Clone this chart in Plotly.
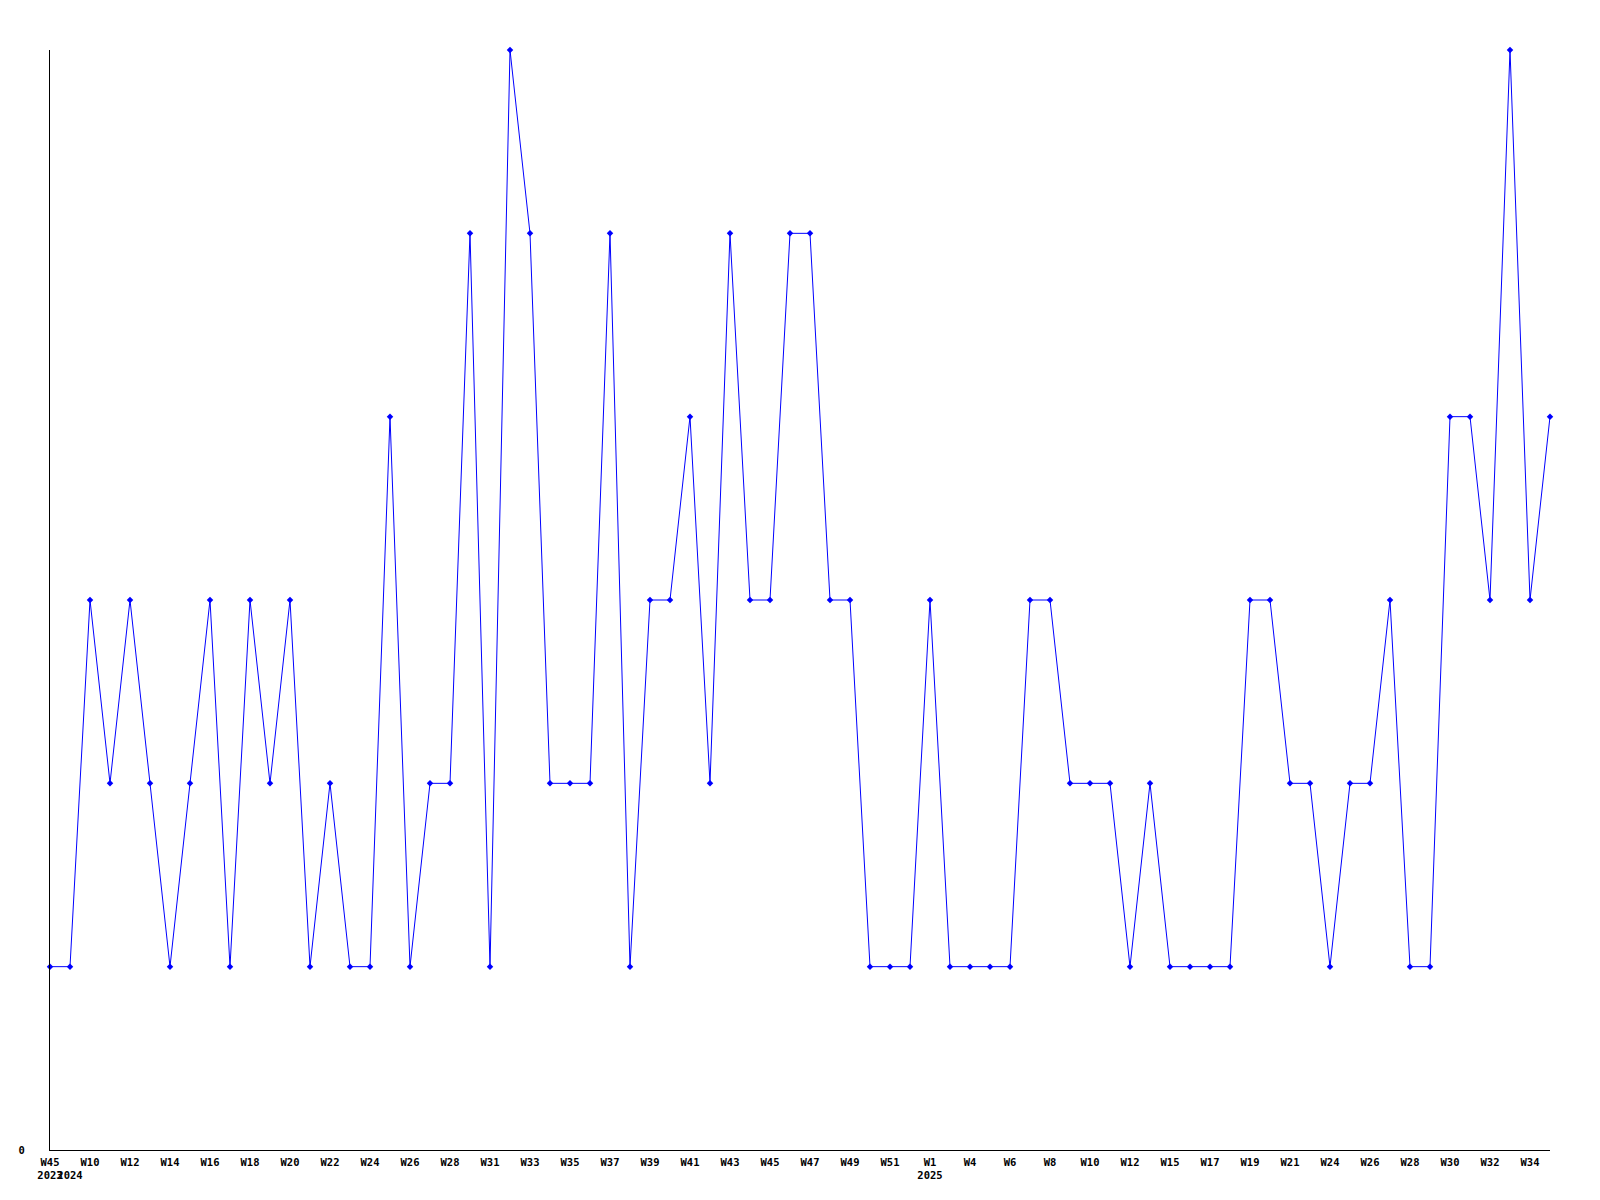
import plotly.graph_objects as go

weeks = ["2023-W45", "2024-W09", "2024-W10", "2024-W11", "2024-W12", "2024-W13", "2024-W14",
         "2024-W15", "2024-W16", "2024-W17", "2024-W18", "2024-W19", "2024-W20", "2024-W21",
         "2024-W22", "2024-W23", "2024-W24", "2024-W25", "2024-W26", "2024-W27", "2024-W28",
         "2024-W30", "2024-W31", "2024-W32", "2024-W33", "2024-W34", "2024-W35", "2024-W36",
         "2024-W37", "2024-W38", "2024-W39", "2024-W40", "2024-W41", "2024-W42", "2024-W43",
         "2024-W44", "2024-W45", "2024-W46", "2024-W47", "2024-W48", "2024-W49", "2024-W50",
         "2024-W51", "2024-W52", "2025-W01", "2025-W02", "2025-W04", "2025-W05", "2025-W06",
         "2025-W07", "2025-W08", "2025-W09", "2025-W10", "2025-W11", "2025-W12", "2025-W14",
         "2025-W15", "2025-W16", "2025-W17", "2025-W18", "2025-W19", "2025-W20", "2025-W21",
         "2025-W23", "2025-W24", "2025-W25", "2025-W26", "2025-W27", "2025-W28", "2025-W29",
         "2025-W30", "2025-W31", "2025-W32", "2025-W33", "2025-W34", "2025-W35"]

values = [1, 1, 3, 2, 3, 2, 1, 2, 3, 1, 3, 2, 3, 1, 2, 1, 1, 4, 1, 2, 2, 5, 1, 6, 5, 2, 2, 2,
          5, 1, 3, 3, 4, 2, 5, 3, 3, 5, 5, 3, 3, 1, 1, 1, 3, 1, 1, 1, 1, 3, 3, 2, 2, 2, 1, 2,
          1, 1, 1, 1, 3, 3, 2, 2, 1, 2, 2, 3, 1, 1, 4, 4, 3, 6, 3, 4]

tick_weeks = ["2023-W45", "2024-W09", "2024-W10", "2024-W12", "2024-W14", "2024-W16", "2024-W18",
              "2024-W20", "2024-W22", "2024-W24", "2024-W26", "2024-W28", "2024-W31", "2024-W33",
              "2024-W35", "2024-W37", "2024-W39", "2024-W41", "2024-W43", "2024-W45", "2024-W47",
              "2024-W49", "2024-W51", "2025-W01", "2025-W04", "2025-W06", "2025-W08", "2025-W10",
              "2025-W12", "2025-W15", "2025-W17", "2025-W19", "2025-W21", "2025-W24", "2025-W26",
              "2025-W28", "2025-W30", "2025-W32", "2025-W34"]
tick_labels = ["W45<br>2023", " <br>2024", "W10", "W12", "W14", "W16", "W18", "W20", "W22", "W24",
               "W26", "W28", "W31", "W33", "W35", "W37", "W39", "W41", "W43", "W45", "W47", "W49",
               "W51", "W1<br>2025", "W4", "W6", "W8", "W10", "W12", "W15", "W17", "W19", "W21",
               "W24", "W26", "W28", "W30", "W32", "W34"]

tfont = dict(family="DejaVu Sans Mono", size=10.5, color="black", weight="bold")

fig = go.Figure()
fig.add_trace(go.Scatter(
    x=weeks, y=values, mode="lines+markers",
    line=dict(color="#0000ff", width=1),
    marker=dict(color="#0000ff", size=5, symbol="diamond"),
    cliponaxis=False,
))
fig.update_layout(
    width=1600, height=1200,
    margin=dict(l=42, r=58, t=42, b=58, autoexpand=False),
    paper_bgcolor="white", plot_bgcolor="white",
    showlegend=False,
    xaxis=dict(type="category", categoryorder="array", categoryarray=weeks,
               range=[0, len(weeks) - 1], showgrid=False, zeroline=False,
               showline=True, linecolor="black", linewidth=1,
               tickmode="array", tickvals=tick_weeks, ticktext=tick_labels,
               ticks="", tickfont=tfont, tickangle=0, ticklabelstandoff=2),
    yaxis=dict(range=[0, 6], showgrid=False, zeroline=False,
               showline=True, linecolor="black", linewidth=1,
               tickmode="array", tickvals=[0], ticktext=["0"],
               ticks="", tickfont=tfont, ticklabelstandoff=22),
)
fig.write_html("out.html")
